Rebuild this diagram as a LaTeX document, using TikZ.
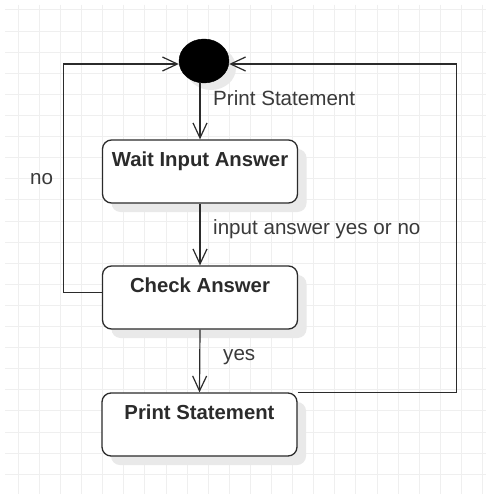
\documentclass[tikz,border=0pt]{standalone}
\usepackage{fontspec}
\setmainfont{Liberation Sans}
\usetikzlibrary{arrows.meta,shadows,calc,shapes.geometric}
\definecolor{gridc}{HTML}{EFEFEF}
\definecolor{ink}{HTML}{2B2B2B}
\definecolor{lbl}{HTML}{3A3A3A}
\definecolor{shade}{HTML}{E9E9E9}
\tikzset{
  statebox/.style={draw=ink, line width=1.3pt, fill=white, rounded corners=9pt,
    minimum width=195pt, minimum height=63pt, inner sep=0pt,
    drop shadow={shadow xshift=9pt, shadow yshift=-9pt, fill=shade, opacity=1}},
  initstate/.style={ellipse, fill=black, draw=black, minimum width=50pt, minimum height=44pt, inner sep=0pt,
    drop shadow={shadow xshift=7pt, shadow yshift=-7pt, fill=shade, opacity=1}},
  title/.style={font=\fontsize{20.3}{24}\selectfont\bfseries, text=ink, anchor=base, inner sep=0pt},
  lab/.style={font=\fontsize{20.6}{24}\selectfont, text=lbl, anchor=base west, inner sep=0pt},
  conn/.style={draw=ink, line width=1.2pt, -{Straight Barb[length=15pt,width=14pt,line width=1.2pt]}}
}
\begin{document}
\begin{tikzpicture}[x=1pt,y=-1pt]
\useasboundingbox (0,0) rectangle (486,494);
\fill[white] (0,0) rectangle (486,494);
% grid
\begin{scope}
\clip (5,5) rectangle (486,494);
\foreach \i in {0,...,22} {
  \draw[gridc, line width=1pt] ({18.3+21.1*\i},5) -- ({18.3+21.1*\i},494);
}
\foreach \j in {0,...,23} {
  \draw[gridc, line width=1pt] (5,{10+21.1*\j}) -- (486,{10+21.1*\j});
}
\end{scope}
% nodes
\node[initstate] (init) at (204,61) {};
\node[statebox] (wait) at (200,171.5) {};
\node[statebox] (check) at (200,297.5) {};
\node[statebox] (print) at (199.5,424.5) {};
\node[title] (waitT) at ($(wait.north)+(0,27)$) {Wait Input Answer};
\node[title] (checkT) at ($(check.north)+(0,27)$) {Check Answer};
\node[title] (printT) at ($(print.north)+(0,27)$) {Print Statement};
% connectors
\draw[conn] (wait.north |- init.south) -- (wait.north);
\draw[conn] (wait.south) -- (check.north);
\draw[conn] (check.south) -- (print.north);
\draw[conn] ([yshift=5pt]check.west) -- ++(-38,0) |- ([yshift=-3pt]init.west);
\draw[conn] (print.north east) -- ++(158.5,0) |- ([yshift=-3pt]init.east);
% labels
\node[lab] (l1) at (213,106) {Print Statement};
\node[lab] (l2) at (213,234) {input answer yes or no};
\node[lab] (l3) at (223,360) {yes};
\node[lab] (l4) at (30,184) {no};
\end{tikzpicture}
\end{document}
